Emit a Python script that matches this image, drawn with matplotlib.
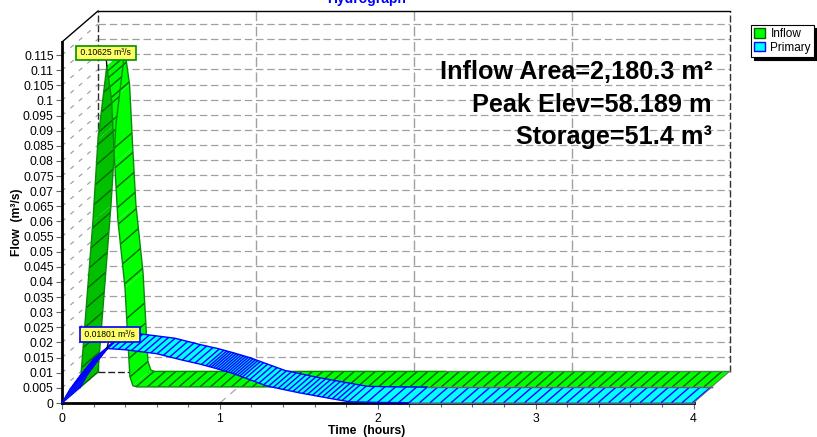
import numpy as np
import matplotlib
matplotlib.use("Agg")
import matplotlib.pyplot as plt
from matplotlib.patches import Patch, Polygon
from matplotlib.ticker import FuncFormatter, MultipleLocator

plt.rcParams["font.family"] = ["Liberation Sans", "DejaVu Sans"]

# hydrograph values
inflow_t = [0, 0.082, 0.114, 0.17, 0.2, 0.22, 0.24, 0.285, 0.316, 0.335, 0.36, 4]
inflow_q = [0, 0.055, 0.082, 0.10625, 0.095, 0.074, 0.0553, 0.033, 0.0036, 0.0006, 0.0002, 0.0002]
primary_t = [0, 0.05, 0.114, 0.2, 0.285, 0.4, 0.6, 0.76, 0.87, 0.97, 1.08, 1.2, 1.3, 1.5, 1.7, 1.82, 2.0, 2.2, 4]
primary_q = [0, 0.0045, 0.009, 0.0145, 0.01801, 0.0176, 0.0163, 0.0142, 0.0129, 0.0115, 0.0098, 0.0075, 0.0056,
             0.0034, 0.0015, 0.0004, 0.0002, 0.0001, 0.0001]

# hatch spacing in pixels along each ribbon
inflow_hatch_t = [0, 0.33, 0.36, 4]
inflow_hatch_px = [20, 20, 10.5, 10.5]
primary_hatch_t = [0, 0.28, 0.3, 0.85, 0.92, 1.12, 1.18, 1.75, 1.85, 4]
primary_hatch_px = [4, 4, 6.5, 6.5, 2.5, 2.5, 5, 5, 10.5, 10.5]

labels_text = ["Inflow Area=2,180.3 m²", "Peak Elev=58.189 m", "Storage=51.4 m³"]

W, H = 817, 437
X0, X1, Y0, Y1 = 62, 693.5, 403, 42
YMAX = 0.1193
PX_T = (X1 - X0) / 4
PX_Q = (Y0 - Y1) / YMAX
# one ribbon is this deep, in data units
DT = 18 / PX_T
DQ = 15.5 / PX_Q
TOP = YMAX + 2 * DQ

fig = plt.figure(figsize=(W / 100, H / 100), dpi=100)
ax = fig.add_axes([X0 / W, 1 - Y0 / H, (X1 - X0) / W, (Y0 - Y1) / H])
ax.set_xlim(0, 4)
ax.set_ylim(0, YMAX)
ax.patch.set_visible(False)


def wall(x, y, **kw):
    ax.plot(x, y, clip_on=False, **kw)


# back wall, left wall and floor grid
grid_q = np.arange(0.005, 0.1151, 0.005)
for q in np.append(0, grid_q):
    wall([0, 2 * DT], [q, q + 2 * DQ], color="#999999", lw=0.8, ls=(0, (4, 6)), zorder=1)
for q in grid_q:
    wall([2 * DT, 4 + 2 * DT], [q + 2 * DQ, q + 2 * DQ], color="#a0a0a0", lw=0.9, ls=(0, (6, 3)), zorder=1)
for t in [1, 2, 3]:
    wall([t + 2 * DT, t + 2 * DT], [2 * DQ, TOP], color="#a0a0a0", lw=1, ls=(0, (7, 4)), zorder=1)
    wall([t, t + 2 * DT], [0, 2 * DQ], color="#a8a8a8", lw=0.9, ls=(0, (6, 5)), zorder=1)

wall([2 * DT, 2 * DT], [2 * DQ, TOP], color="#303030", lw=1, ls=(0, (5, 2)), zorder=1.2)
wall([4 + 2 * DT, 4 + 2 * DT], [2 * DQ, TOP], color="#303030", lw=1, ls=(0, (5, 2)), zorder=1.2)
wall([2 * DT, 4 + 2 * DT], [2 * DQ, 2 * DQ], color="#202020", lw=1, ls=(0, (5, 2)), zorder=1.2)
wall([2 * DT, 4 + 2 * DT], [TOP, TOP], color="black", lw=1, zorder=1.2)
wall([0, 2 * DT], [YMAX, TOP], color="black", lw=1, zorder=1.2)


def ribbon(t, q, layer, top, under, hatch, edge, flat_edge, hatch_t, hatch_px, z):
    t = np.array(t, dtype=float)
    q = np.array(q, dtype=float)
    dx = layer * DT
    dy = layer * DQ
    depth_slope = 15.5 / 18
    # undersides first, so the top faces lie over them
    slopes = np.diff(q) * PX_Q / (np.diff(t) * PX_T)
    for facing_up in [False, True]:
        for i in range(len(t) - 1):
            if (slopes[i] <= depth_slope) != facing_up:
                continue
            pts = [(t[i] + dx, q[i] + dy), (t[i + 1] + dx, q[i + 1] + dy),
                   (t[i + 1] + dx + DT, q[i + 1] + dy + DQ), (t[i] + dx + DT, q[i] + dy + DQ)]
            ax.add_patch(Polygon(pts, closed=True, fc=top if facing_up else under, ec="none",
                                 clip_on=False, zorder=z))
    # hatch lines run across the ribbon
    tt = 0.0
    while tt < 4:
        qq = np.interp(tt, t, q)
        ax.plot([tt + dx, tt + dx + DT], [qq + dy, qq + dy + DQ], color=hatch, lw=1,
                clip_on=False, zorder=z + 0.1, solid_capstyle="butt")
        i = min(np.searchsorted(t, tt, side="right") - 1, len(t) - 2)
        speed = np.hypot(PX_T, slopes[i] * PX_T)
        tt += np.interp(tt, hatch_t, hatch_px) / speed
    # outlines of both long edges
    dense_t = np.array(sorted(set(t) | {2.2}))
    dense_q = np.interp(dense_t, t, q)
    steep = dense_t <= 2.2
    flat = dense_t >= 2.2
    for off_x, off_y in [(dx, dy), (dx + DT, dy + DQ)]:
        ax.plot(dense_t[steep] + off_x, dense_q[steep] + off_y, color=edge, lw=1, clip_on=False, zorder=z + 0.2)
        ax.plot(dense_t[flat] + off_x, dense_q[flat] + off_y, color=flat_edge, lw=1, clip_on=False, zorder=z + 0.2)
    ax.plot([4 + dx, 4 + dx + DT], [q[-1] + dy, q[-1] + dy + DQ], color=flat_edge, lw=0.8,
            clip_on=False, zorder=z + 0.2)


ribbon(inflow_t, inflow_q, 1, "#00ff00", "#00c000", "#006400", "#0a8a0a", "#4a8a4a",
       inflow_hatch_t, inflow_hatch_px, 3)
ribbon(primary_t, primary_q, 0, "#00ffff", "#00b0e0", "#0000ff", "#0000ff", "#606080",
       primary_hatch_t, primary_hatch_px, 4)

# front axes
for side in ["top", "right"]:
    ax.spines[side].set_visible(False)
for side in ["left", "bottom"]:
    ax.spines[side].set_linewidth(2)
    ax.spines[side].set_zorder(2)

ax.xaxis.set_major_locator(MultipleLocator(1))
ax.xaxis.set_minor_locator(MultipleLocator(0.2))
ax.yaxis.set_major_locator(MultipleLocator(0.005))
ax.yaxis.set_major_formatter(FuncFormatter(lambda v, p: f"{v:.3f}".rstrip("0").rstrip(".")))
ax.tick_params(axis="both", which="major", length=4, width=0.8, color="#666666", labelsize=8.8, pad=2)
ax.tick_params(axis="x", which="major", pad=3.5)
ax.tick_params(axis="x", which="minor", length=3, width=0.8, color="#666666")

fig.text(17 / W, 1 - 222 / H, "Flow  (m³/s)", rotation=90, ha="center", va="center", fontsize=8.7, fontweight="bold")
fig.text(367 / W, 1 - 431 / H, "Time  (hours)", ha="center", va="center", fontsize=8.8, fontweight="bold")
fig.text(367 / W, 1 - 3 / H, "Hydrograph", ha="center", va="baseline", fontsize=10, fontweight="bold", color="#0000ff")

for txt, y in zip(labels_text, [72, 105, 137]):
    fig.text(712 / W, 1 - y / H, txt, ha="right", va="center", fontsize=18.2, fontweight="bold", zorder=9)

# peak labels
for t_list, q_list, layer, off, edge in [
    (inflow_t, inflow_q, 1, (-1, 13), "#009000"),
    (primary_t, primary_q, 0, (3, 14), "#0000ff"),
]:
    k = int(np.argmax(q_list))
    ax.annotate(f" {q_list[k]:.5f} m³/s ", xy=(t_list[k] + layer * DT, q_list[k] + layer * DQ), xytext=off,
                textcoords="offset pixels", ha="center", va="center", fontsize=6.2, zorder=8,
                annotation_clip=False, bbox=dict(boxstyle="square,pad=0.3", fc="#ffff66", ec=edge, lw=1.2),
                arrowprops=dict(arrowstyle="-", color="black", lw=1, shrinkA=0, shrinkB=0))

handles = [Patch(fc="#00ff00", ec="#006000", label="Inflow"), Patch(fc="#00ffff", ec="#0000ff", label="Primary")]
leg = fig.legend(handles=handles, loc="upper left", bbox_to_anchor=(751 / W, 1 - 25 / H), fontsize=8.5,
                 frameon=True, fancybox=False, edgecolor="black", framealpha=1, borderaxespad=0,
                 handlelength=0.95, handleheight=0.85, handletextpad=0.45, borderpad=0.25, labelspacing=0.15,
                 shadow={"color": "black", "alpha": 1, "ox": 2.5, "oy": -2.5})
leg.get_frame().set_linewidth(0.8)

fig.savefig("out.png", dpi=100)
